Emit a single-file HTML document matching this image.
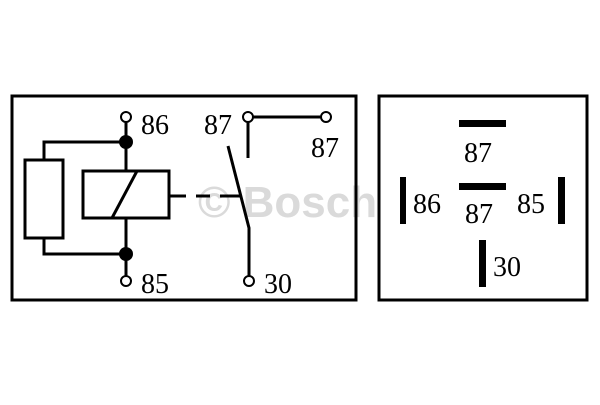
<!DOCTYPE html>
<html><head><style>body{margin:0;background:#fff}</style></head><body>
<svg width="600" height="400" viewBox="0 0 600 400" xmlns="http://www.w3.org/2000/svg" font-family="Liberation Serif, serif" font-size="28">
<rect x="0" y="0" width="600" height="400" fill="#fff"/>
<text x="198" y="217" font-family="Liberation Sans, sans-serif" font-weight="bold" font-size="44" fill="#dadada">© Bosch</text>
<g stroke="#000" stroke-width="3" fill="none">
<rect x="12" y="96" width="344" height="204"/>
<rect x="379" y="96" width="208" height="204"/>
<line x1="126" y1="122" x2="126" y2="171"/>
<rect x="83" y="171" width="86" height="47"/>
<line x1="112" y1="218" x2="137" y2="171"/>
<line x1="126" y1="218" x2="126" y2="276"/>
<rect x="25" y="160" width="38" height="78"/>
<polyline points="44,160 44,142 126,142"/>
<polyline points="44,238 44,254 126,254"/>
<line x1="169" y1="196" x2="186" y2="196"/>
<line x1="196" y1="196" x2="210" y2="196"/>
<line x1="220" y1="196" x2="240" y2="196"/>
<polyline points="228,146 249,228 249,276"/>
<line x1="253" y1="117" x2="321" y2="117"/>
<line x1="248" y1="122" x2="248" y2="158"/>
</g>
<g stroke="#000" stroke-width="2" fill="#fff">
<circle cx="126" cy="117" r="5"/><circle cx="126" cy="281" r="5"/>
<circle cx="248" cy="117" r="5"/><circle cx="326" cy="117" r="5"/>
<circle cx="249" cy="281" r="5"/>
</g>
<circle cx="126" cy="142" r="7"/><circle cx="126" cy="254" r="7"/>
<text x="141" y="134">86</text>
<text x="141" y="293">85</text>
<text x="204" y="134">87</text>
<text x="311" y="157">87</text>
<text x="264" y="293">30</text>
<rect x="459" y="120" width="47" height="7"/>
<rect x="459" y="183" width="47" height="7"/>
<rect x="400" y="177" width="6" height="47"/>
<rect x="558" y="177" width="7" height="47"/>
<rect x="479" y="240" width="7" height="47"/>
<text x="464" y="162">87</text>
<text x="465" y="223">87</text>
<text x="413" y="213">86</text>
<text x="517" y="213">85</text>
<text x="493" y="276">30</text>
</svg>
</body></html>
